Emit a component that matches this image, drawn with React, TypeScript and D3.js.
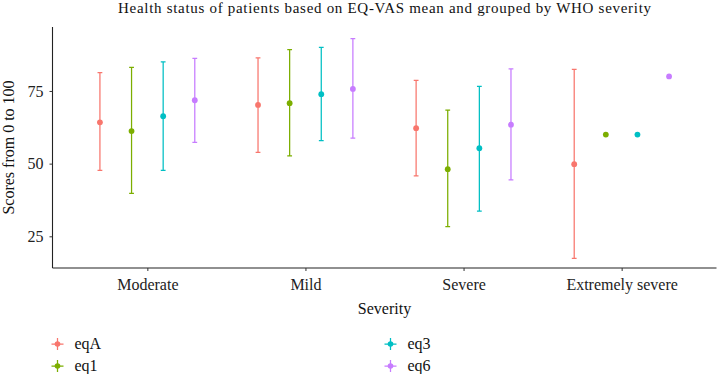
import React, { useEffect, useRef } from 'react';
import * as d3 from 'd3';

const categories = ['Moderate', 'Mild', 'Severe', 'Extremely severe'];
const seriesNames = ['eqA', 'eq1', 'eq3', 'eq6'];
const seriesColors = ['#F8766D', '#7CAE00', '#00BFC4', '#C77CFF'];

// mean and error-bar ends per series, one value per severity category
const meanEqA = [64.2, 70.2, 62.2, 49.8];
const meanEq1 = [61.2, 70.8, 48.1, 60.0];
const meanEq3 = [66.3, 73.9, 55.3, 60.0];
const meanEq6 = [71.8, 75.7, 63.4, 80.0];

const lowEqA = [47.7, 53.9, 45.8, 17.4];
const lowEq1 = [39.8, 52.7, 28.3, null];
const lowEq3 = [47.7, 57.9, 33.7, null];
const lowEq6 = [57.3, 58.8, 44.4, null];

const highEqA = [81.3, 86.4, 78.6, 82.4];
const highEq1 = [83.1, 89.2, 68.4, null];
const highEq3 = [85.0, 90.0, 76.6, null];
const highEq6 = [86.2, 93.0, 82.6, null];

const yTicks = [25, 50, 75];

const W = 717, H = 374;
const FONT = 'Liberation Serif, serif';

export default function App() {
	const svgRef = useRef<SVGSVGElement>(null);

	useEffect(() => {
		const svg = d3.select(svgRef.current);
		svg.selectAll('*').remove();

		const means = [meanEqA, meanEq1, meanEq3, meanEq6];
		const lows = [lowEqA, lowEq1, lowEq3, lowEq6];
		const highs = [highEqA, highEq1, highEq3, highEq6];

		const left = 52.5, right = 716.5, top = 27, bottom = 268;

		const x = d3.scalePoint<string>().domain(categories).range([left, right]).padding(0.6);
		const step = x.step();
		const dodge = d3.scaleBand<string>().domain(seriesNames).range([-0.4 * step, 0.4 * step]);
		const y = d3.scaleLinear().domain([14.1, 97.0]).range([bottom, top]);

		// title (reference face is wider than Times, so stretch the spacing)
		svg.append('text')
			.attr('x', (left + right) / 2).attr('y', 13)
			.attr('text-anchor', 'middle')
			.attr('textLength', 533).attr('lengthAdjust', 'spacing')
			.style('font-family', FONT).style('font-size', '15px')
			.attr('fill', '#111')
			.text('Health status of patients based on EQ-VAS mean and grouped by WHO severity');

		// axes
		const yAx = svg.append('g').attr('transform', `translate(${left},0)`)
			.call(d3.axisLeft(y).tickValues(yTicks).tickSize(3).tickPadding(6))
			.attr('font-family', FONT).attr('font-size', 16);
		yAx.select('.domain').attr('d', `M0,${top}V${bottom}`).attr('stroke', '#222').attr('stroke-width', 1.1);
		yAx.selectAll('.tick line').attr('stroke', '#333');
		yAx.selectAll('.tick text').style('font-family', FONT).style('font-size', '16px').attr('fill', '#222');

		const xAx = svg.append('g').attr('transform', `translate(0,${bottom})`)
			.call(d3.axisBottom(x).tickSize(3).tickPadding(7.5))
			.attr('font-family', FONT).attr('font-size', 16);
		xAx.select('.domain').attr('d', `M${left},0H${right}`).attr('stroke', '#222').attr('stroke-width', 1.1);
		xAx.selectAll('.tick line').attr('stroke', '#333');
		xAx.selectAll('.tick text').style('font-family', FONT).style('font-size', '16px').attr('fill', '#222');

		// axis titles
		svg.append('text')
			.attr('transform', `translate(14,${(top + bottom) / 2}) rotate(-90)`)
			.attr('text-anchor', 'middle')
			.style('font-family', FONT).style('font-size', '16px')
			.attr('fill', '#111')
			.text('Scores from 0 to 100');
		svg.append('text')
			.attr('x', (left + right) / 2).attr('y', 314)
			.attr('text-anchor', 'middle')
			.style('font-family', FONT).style('font-size', '16px')
			.attr('fill', '#111')
			.text('Severity');

		// error bars and points
		seriesNames.forEach((s, si) => {
			const g = svg.append('g');
			const col = seriesColors[si];
			categories.forEach((c, ci) => {
				const cx = (x(c) as number) + (dodge(s) as number) + dodge.bandwidth() / 2;
				const lo = lows[si][ci], hi = highs[si][ci];
				if (lo != null && hi != null) {
					const cap = 2.4;
					g.append('path')
						.attr('d', `M${cx - cap},${y(hi)}H${cx + cap}M${cx},${y(hi)}V${y(lo)}M${cx - cap},${y(lo)}H${cx + cap}`)
						.attr('stroke', col).attr('stroke-width', 1.25).attr('fill', 'none');
				}
				g.append('circle')
					.attr('cx', cx).attr('cy', y(means[si][ci]))
					.attr('r', 2.9).attr('fill', col);
			});
		});

		// legend, two columns
		const legPos = [[57.5, 344], [57.5, 366], [390.5, 344], [390.5, 366]];
		seriesNames.forEach((s, si) => {
			const [lx, ly] = legPos[si];
			const col = seriesColors[si];
			const g = svg.append('g').attr('transform', `translate(${lx},${ly})`);
			g.append('path').attr('d', 'M-6,0H6M0,-6V6').attr('stroke', col).attr('stroke-width', 1.25);
			g.append('circle').attr('r', 2.8).attr('fill', col);
			g.append('text')
				.attr('x', 17).attr('y', 0).attr('dy', '0.32em')
				.style('font-family', FONT).style('font-size', '16px')
				.attr('fill', '#111')
				.text(s);
		});
	}, []);

	return (
		<svg ref={svgRef} width={W} height={H}
			style={{ position: 'fixed', left: 0, top: 0, background: '#fff' }} />
	);
}
